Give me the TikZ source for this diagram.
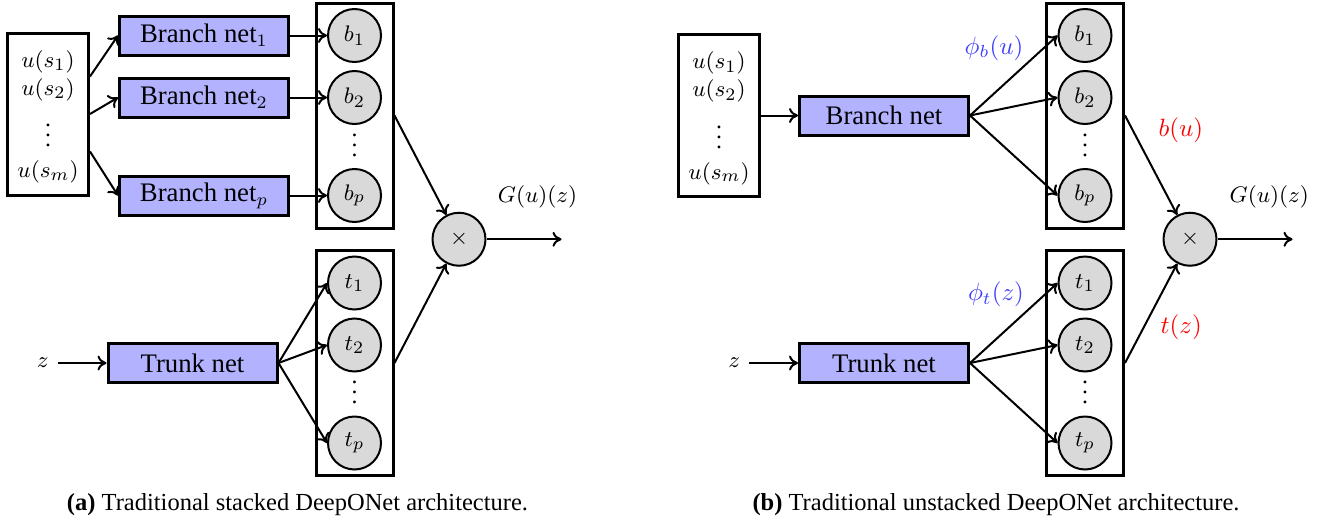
\documentclass[tikz,border=0pt]{standalone}
\usepackage{amsmath,amssymb}
\usepackage[no-math]{fontspec}
\setmainfont{Liberation Serif}
\usepackage{tikz}
\usetikzlibrary{arrows.meta,positioning,calc,matrix}

\begin{document}
\begin{tikzpicture}[
  every node/.style={font=\fontsize{9.5}{10.8}\selectfont, anchor=center},
  netbox/.style={draw, very thick, fill=blue!30, minimum width=67.6pt, minimum height=15.6pt,
    inner sep=0pt, font=\fontsize{10.7}{12}\selectfont},
  inbox/.style={draw, very thick, align=center, minimum width=32.4pt, minimum height=64.8pt, inner sep=0pt},
  neuron/.style={circle, draw, thick, fill=gray!30, minimum size=21.2pt, inner sep=0pt},
  neurcol/.style={matrix of math nodes, draw, very thick, inner xsep=4.4pt, inner ysep=2pt,
    row sep=2.8pt, nodes={neuron}},
  mult/.style={circle, draw, thick, fill=gray!30, minimum size=21.2pt, inner sep=0pt},
  vdot/.style={inner sep=0pt, yshift=3.6pt},
  conn/.style={-{Computer Modern Rightarrow[length=3.6pt, width=6pt]}, thick},
  blbl/.style={text=blue!75, font=\fontsize{10.2}{12}\selectfont},
  rlbl/.style={text=red, font=\fontsize{10}{12}\selectfont},
  subcap/.style={font=\fontsize{9.8}{12}\selectfont}
]
  \useasboundingbox (0,0) rectangle (532.4pt,-208.8pt);

  % --- (a) gestapelte Variante ---
  \matrix (bA) [neurcol] at (141.8pt,-46.2pt) {
    b_1 \\
    b_2 \\[14.4pt]
    b_p \\
  };
  \node (bAdots) [vdot] at ($(bA-2-1)!0.5!(bA-3-1)$) {$\vdots$};

  \matrix (tA) [neurcol, below=7.8pt of bA] {
    t_1 \\
    t_2 \\[14.4pt]
    t_p \\
  };
  \node (tAdots) [vdot] at ($(tA-2-1)!0.5!(tA-3-1)$) {$\vdots$};

  \node (brA1) [netbox, left=14.8pt of bA-1-1] {Branch net$_1$};
  \node (brA2) [netbox, left=14.8pt of bA-2-1] {Branch net$_2$};
  \node (brAp) [netbox, left=14.8pt of bA-3-1] {Branch net$_p$};

  \node (inA) [inbox, left=11.2pt of brA2, yshift=-6.6pt]
    {\rule{0pt}{9.1pt}$u(s_1)$\\[0.4pt] $u(s_2)$\\[2.4pt] $\vdots$\\[1.5pt] $u(s_m)$};

  \node (trA) [netbox, left=14.4pt of tA] {Trunk net};
  \node (zA) [left=19.6pt of trA] {$z$};

  \coordinate (midA) at ($(bA.east)!0.5!(tA.east)$);
  \node (mulA) [mult, right=14.8pt of midA] {$\times$};
  \coordinate (outA) at ($(mulA.east)+(30pt,0)$);

  % Verbindungen
  \draw[conn] ($(inA.east)+(0,15pt)$) -- (brA1.west);
  \draw[conn] (inA.east) -- (brA2.west);
  \draw[conn] ($(inA.east)+(0,-15pt)$) -- (brAp.west);
  \draw[conn] (brA1) -- (bA-1-1);
  \draw[conn] (brA2) -- (bA-2-1);
  \draw[conn] (brAp) -- (bA-3-1);
  \draw[conn] (zA) -- (trA);
  \draw[conn] (trA.east) -- (tA-1-1.west);
  \draw[conn] (trA.east) -- (tA-2-1.west);
  \draw[conn] (trA.east) -- (tA-3-1.west);
  \draw[conn] (bA.east) -- (mulA);
  \draw[conn] (tA.east) -- (mulA);
  \draw[conn] (mulA) -- (outA) node[pos=0.68, above=8.7pt] {$G(u)(z)$};

  % --- (b) ungestapelte Variante ---
  \matrix (bB) [neurcol] at (434pt,-46.2pt) {
    b_1 \\
    b_2 \\[14.4pt]
    b_p \\
  };
  \node (bBdots) [vdot] at ($(bB-2-1)!0.5!(bB-3-1)$) {$\vdots$};

  \matrix (tB) [neurcol, below=7.8pt of bB] {
    t_1 \\
    t_2 \\[14.4pt]
    t_p \\
  };
  \node (tBdots) [vdot] at ($(tB-2-1)!0.5!(tB-3-1)$) {$\vdots$};

  \node (brB) [netbox, left=30pt of bB] {Branch net};
  \node (inB) [inbox, left=14.8pt of brB]
    {\rule{0pt}{9.1pt}$u(s_1)$\\[0.4pt] $u(s_2)$\\[2.4pt] $\vdots$\\[1.5pt] $u(s_m)$};

  \node (trB) [netbox, left=30pt of tB] {Trunk net};
  \node (zB) [left=19.6pt of trB] {$z$};

  \coordinate (midB) at ($(bB.east)!0.5!(tB.east)$);
  \node (mulB) [mult, right=15pt of midB] {$\times$};
  \coordinate (outB) at ($(mulB.east)+(30pt,0)$);

  % Merkmale und Ausgaenge
  \node (phiB) [blbl, above=10.1pt of brB.north east, xshift=9.6pt] {$\phi_b(u)$};
  \node (phiT) [blbl, above=10.5pt of trB.north east, xshift=10.4pt] {$\phi_t(z)$};
  \node (buB) [rlbl, right=9.9pt of bB.east, yshift=-5.8pt] {$b(u)$};
  \node (tzB) [rlbl, right=10.7pt of tB.east, yshift=14.4pt] {$t(z)$};

  % Verbindungen
  \draw[conn] (inB) -- (brB);
  \draw[conn] (brB.east) -- (bB-1-1.west);
  \draw[conn] (brB.east) -- (bB-2-1.west);
  \draw[conn] (brB.east) -- (bB-3-1.west);
  \draw[conn] (zB) -- (trB);
  \draw[conn] (trB.east) -- (tB-1-1.west);
  \draw[conn] (trB.east) -- (tB-2-1.west);
  \draw[conn] (trB.east) -- (tB-3-1.west);
  \draw[conn] (bB.east) -- (mulB);
  \draw[conn] (tB.east) -- (mulB);
  \draw[conn] (mulB) -- (outB) node[pos=0.69, above=8.7pt] {$G(u)(z)$};

  % Unterschriften
  \node (capA) [subcap] at (119pt,-202pt) {\textbf{(a)} Traditional stacked DeepONet architecture.};
  \node (capB) [subcap] at (398.4pt,-202pt) {\textbf{(b)} Traditional unstacked DeepONet architecture.};
\end{tikzpicture}
\end{document}
